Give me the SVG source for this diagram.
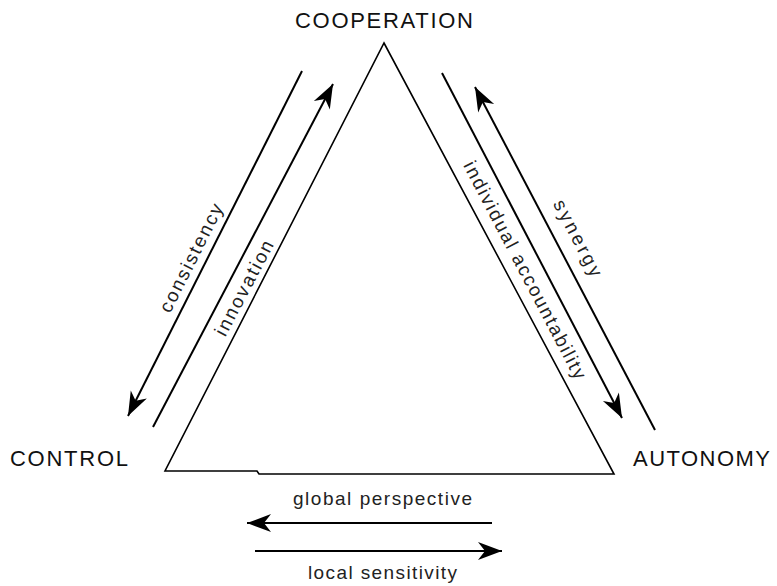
<svg xmlns="http://www.w3.org/2000/svg" width="777" height="586" viewBox="0 0 777 586">
  <style>
    .corner { font-family: "Liberation Sans", Arial, sans-serif; font-size: 22px; fill: #111; }
    .lbl { font-family: "Liberation Sans", Arial, sans-serif; font-size: 19px; fill: #222; }
    .edge { fill: none; stroke: #000; stroke-width: 1.6; stroke-linejoin: miter; }
    .arrow { fill: none; stroke: #000; stroke-width: 2; marker-end: url(#head); }
  </style>
  <defs>
    <marker id="head" markerUnits="userSpaceOnUse" markerWidth="30" markerHeight="24" viewBox="-26 -12 30 24" refX="0" refY="0" orient="auto" overflow="visible">
      <path d="M0,0 L-24,-9 L-17,0 L-24,9 Z" fill="#000"/>
    </marker>
  </defs>
  <rect width="777" height="586" fill="#fff"/>

  <!-- central triangle -->
  <g id="triangle">
    <path class="edge" d="M384,43 L614,474 L259,474 L257,471 L165,471 Z"/>
  </g>

  <!-- corner labels -->
  <g id="cooperation">
    <text class="corner" x="295" y="28" textLength="178" lengthAdjust="spacing">COOPERATION</text>
  </g>
  <g id="control">
    <text class="corner" x="10" y="466" textLength="118" lengthAdjust="spacing">CONTROL</text>
  </g>
  <g id="autonomy">
    <text class="corner" x="633" y="466" textLength="137" lengthAdjust="spacing">AUTONOMY</text>
  </g>

  <!-- connectors -->
  <g id="connectors">
    <line class="arrow" x1="302" y1="71" x2="128" y2="416"/>
    <line class="arrow" x1="153" y1="427" x2="333" y2="84"/>
    <line class="arrow" x1="442" y1="73" x2="622" y2="418"/>
    <line class="arrow" x1="655" y1="430" x2="475" y2="87"/>
    <line class="arrow" x1="492" y1="523" x2="247" y2="523"/>
    <line class="arrow" x1="255" y1="551" x2="502" y2="551"/>
  </g>

  <!-- connector labels -->
  <g id="labels">
    <text class="lbl" transform="translate(191,258) rotate(-63.2)" text-anchor="middle" dominant-baseline="central" textLength="119" lengthAdjust="spacing">consistency</text>
    <text class="lbl" transform="translate(244,288) rotate(-62.3)" text-anchor="middle" dominant-baseline="central" textLength="105" lengthAdjust="spacing">innovation</text>
    <text class="lbl" transform="translate(525,270) rotate(62.4)" text-anchor="middle" dominant-baseline="central" textLength="243" lengthAdjust="spacing">individual accountability</text>
    <text class="lbl" transform="translate(578,238) rotate(62.3)" text-anchor="middle" dominant-baseline="central" textLength="84" lengthAdjust="spacing">synergy</text>
    <text class="lbl" x="293" y="505" textLength="179" lengthAdjust="spacing">global perspective</text>
    <text class="lbl" x="308" y="579" textLength="149" lengthAdjust="spacing">local sensitivity</text>
  </g>
</svg>
